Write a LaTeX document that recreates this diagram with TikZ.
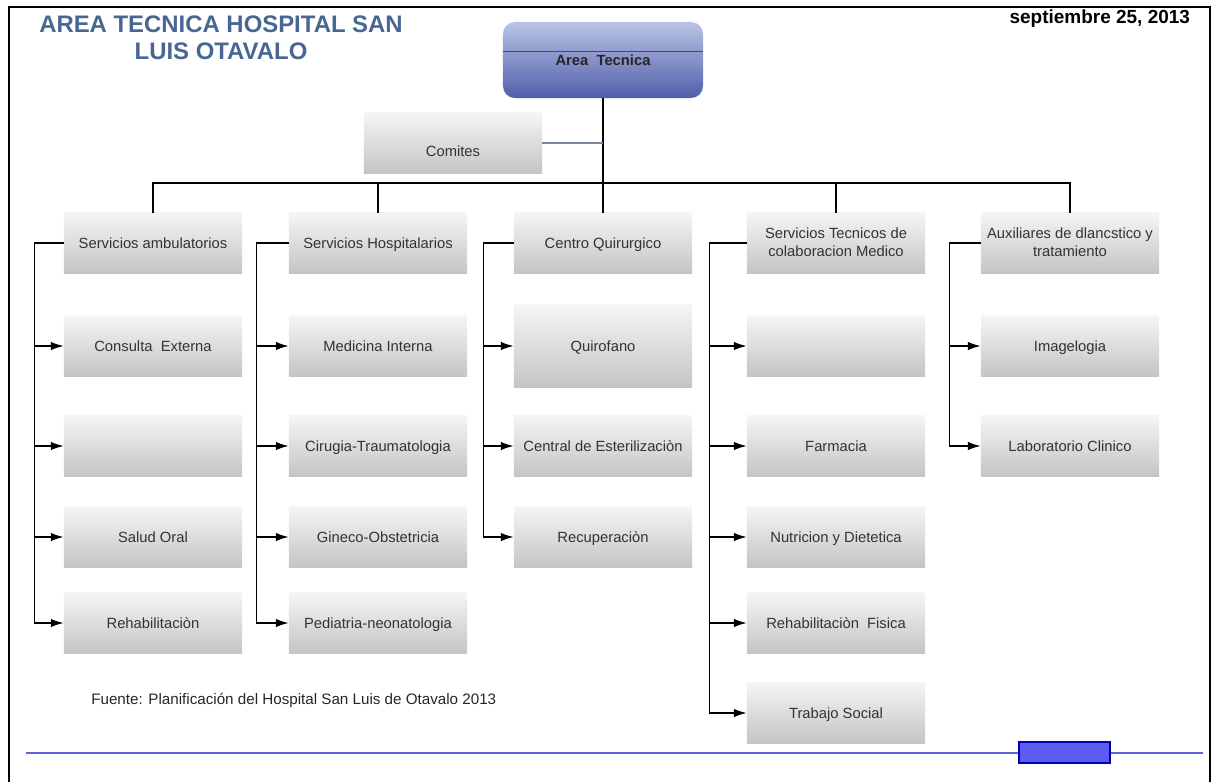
\documentclass[tikz,border=0pt]{standalone}
\usepackage{fontspec}
\setmainfont{Liberation Sans}
\usetikzlibrary{arrows.meta}
\definecolor{titazul}{RGB}{72,102,146}
\definecolor{azulclaro}{RGB}{186,196,230}
\definecolor{azuloscuro}{RGB}{80,94,170}
\definecolor{grislink}{RGB}{120,136,152}
\definecolor{linea}{RGB}{98,98,220}
\definecolor{bloque}{RGB}{92,92,242}

\begin{document}
\begin{tikzpicture}[%
	x=0.025cm, y=-0.025cm,
	caja/.style={rectangle, top color=gray!8, bottom color=gray!46,
		minimum width=4.45cm, minimum height=1.5cm, inner sep=0pt,
		align=center, text=black!80, font=\fontsize{10.5}{12.5}\selectfont,
		text height=0.27cm, text depth=0.02cm},
	dos/.style={text height=0.75cm, text depth=0.09cm},
	rama/.style={line width=1pt},
	flecha/.style={line width=1pt, -{Latex[length=3.2mm,width=2.1mm]}}]
	\useasboundingbox (0,0) rectangle (1216,782);
	% marco de la pagina
	\draw[line width=1.4pt] (9,782) -- (9,7) -- (1210,7) -- (1210,782);
	\node[font=\bfseries\fontsize{17}{19.2}\selectfont, text=titazul, align=center] (titulo) at (221,38) {AREA TECNICA HOSPITAL SAN\\LUIS OTAVALO};
	\node[font=\bfseries\fontsize{13.5}{16}\selectfont, anchor=east] (fecha) at (1195,19) {septiembre 25, 2013};

	% cabeza
	\node[rounded corners=0.3cm, top color=azulclaro, bottom color=azuloscuro,
		minimum width=5cm, minimum height=1.9cm, font=\bfseries\fontsize{10.5}{12}\selectfont,
		text=black!85, text height=0.27cm, text depth=0.02cm] (at) at (603,60) {Area\ \ Tecnica};
	\draw[black!70] ([yshift=-0.75cm]at.north west) -- ([yshift=-0.75cm]at.north east);
	\node[caja, text height=0.8cm, text depth=0.12cm] (com) at (453,143) {Comites};
	\coordinate (bus) at (603,183);
	\draw[rama] (at) -- (bus);
	\draw[rama, grislink] (com) -- (com -| bus);

	% segundo nivel
	\node[caja] (sa) at (153,243) {Servicios ambulatorios};
	\node[caja] (sh) at (378,243) {Servicios Hospitalarios};
	\node[caja] (cq) at (603,243) {Centro Quirurgico};
	\node[caja, dos] (st) at (836,243) {Servicios Tecnicos de\\colaboracion Medico};
	\node[caja, dos] (ax) at (1070,243) {Auxiliares de dlancstico y\\tratamiento};
	\draw[rama] (bus) -| (sa);
	\draw[rama] (bus) -| (sh);
	\draw[rama] (bus) -- (cq);
	\draw[rama] (bus) -| (st);
	\draw[rama] (bus) -| (ax);

	% servicios ambulatorios
	\node[caja] (ce) at (153,346) {Consulta\ \ Externa};
	\node[caja] (sa2) at (153,446) {};
	\node[caja] (so) at (153,537) {Salud Oral};
	\node[caja] (rh) at (153,623) {Rehabilitaciòn};
	\draw[flecha] (sa.west) -- ++(-29,0) |- (ce);
	\draw[flecha] (sa.west) -- ++(-29,0) |- (sa2);
	\draw[flecha] (sa.west) -- ++(-29,0) |- (so);
	\draw[flecha] (sa.west) -- ++(-29,0) |- (rh);

	% servicios hospitalarios
	\node[caja] (mi) at (378,346) {Medicina Interna};
	\node[caja] (ct) at (378,446) {Cirugia-Traumatologia};
	\node[caja] (go) at (378,537) {Gineco-Obstetricia};
	\node[caja] (pn) at (378,623) {Pediatria-neonatologia};
	\draw[flecha] (sh.west) -- ++(-32,0) |- (mi);
	\draw[flecha] (sh.west) -- ++(-32,0) |- (ct);
	\draw[flecha] (sh.west) -- ++(-32,0) |- (go);
	\draw[flecha] (sh.west) -- ++(-32,0) |- (pn);

	% centro quirurgico
	\node[caja, minimum height=2.05cm] (qf) at (603,346) {Quirofano};
	\node[caja] (ee) at (603,446) {Central de Esterilizaciòn};
	\node[caja] (rc) at (603,537) {Recuperaciòn};
	\draw[flecha] (cq.west) -- ++(-30,0) |- (qf);
	\draw[flecha] (cq.west) -- ++(-30,0) |- (ee);
	\draw[flecha] (cq.west) -- ++(-30,0) |- (rc);

	% servicios tecnicos
	\node[caja] (st1) at (836,346) {};
	\node[caja] (fa) at (836,446) {Farmacia};
	\node[caja] (nd) at (836,537) {Nutricion y Dietetica};
	\node[caja] (rf) at (836,623) {Rehabilitaciòn\ \ Fisica};
	\node[caja, minimum height=1.53cm] (ts) at (836,713) {Trabajo Social};
	\draw[flecha] (st.west) -- ++(-37,0) |- (st1);
	\draw[flecha] (st.west) -- ++(-37,0) |- (fa);
	\draw[flecha] (st.west) -- ++(-37,0) |- (nd);
	\draw[flecha] (st.west) -- ++(-37,0) |- (rf);
	\draw[flecha] (st.west) -- ++(-37,0) |- (ts);

	% auxiliares
	\node[caja] (im) at (1070,346) {Imagelogia};
	\node[caja] (lc) at (1070,446) {Laboratorio Clinico};
	\draw[flecha] (ax.west) -- ++(-31,0) |- (im);
	\draw[flecha] (ax.west) -- ++(-31,0) |- (lc);

	% pie
	\node[anchor=west, inner sep=0pt, font=\fontsize{10.8}{12}\selectfont, text=black!85] (fuente) at (91,700) {Fuente: Planificación del Hospital San Luis de Otavalo 2013};
	\draw[line width=1.5pt, linea] (26,753) -- (1203,753);
	\draw[fill=bloque, draw=blue!70!black, line width=0.8pt] (1019,742) rectangle (1110,763);
\end{tikzpicture}
\end{document}
